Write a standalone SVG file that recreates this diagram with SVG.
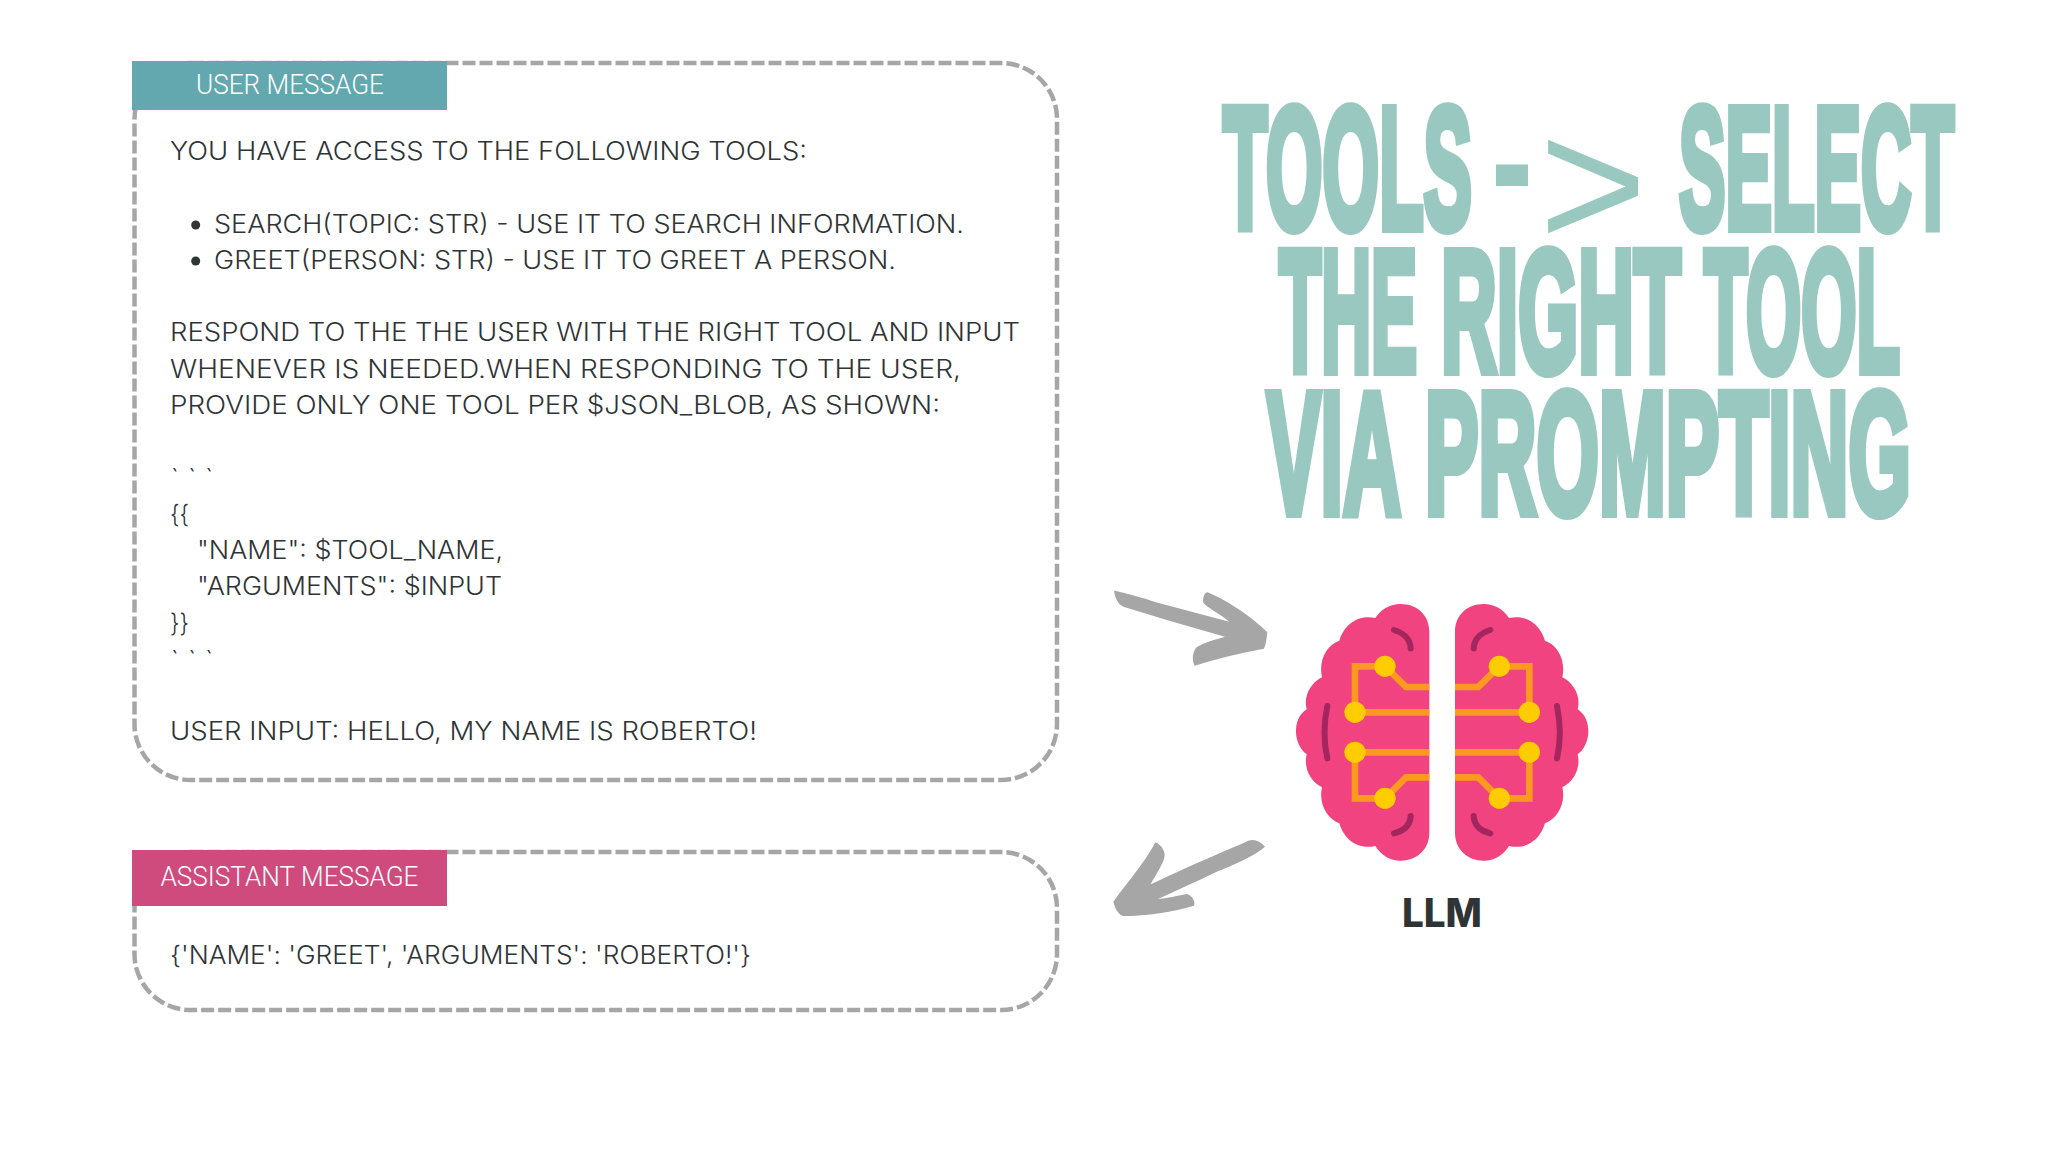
<svg xmlns="http://www.w3.org/2000/svg" width="2048" height="1152" viewBox="0 0 2048 1152">
<defs>
<style>
.box{fill:none;stroke:#a6a6a6;stroke-width:4.500;stroke-dasharray:13 4}
.b{font-family:Inter,"Liberation Sans",sans-serif;font-size:25px;font-weight:300;fill:#2f3436}
.lab{font-family:Roboto,"Liberation Sans",sans-serif;font-size:28px;font-weight:300;fill:#fff}
.t{font-family:"Liberation Sans Narrow","Liberation Sans",sans-serif;font-weight:700;font-size:172px;fill:#98c8bf;stroke:#98c8bf;stroke-width:8;stroke-linejoin:miter;vector-effect:non-scaling-stroke}
.ar{fill:#a6a6a6}
.o{fill:none;stroke:#fb9a1e;stroke-width:20;stroke-linejoin:miter}
.d{fill:none;stroke:#a3265f;stroke-width:18;stroke-linecap:round}
.y{fill:#ffcc00}
</style>
<g id="hemi">
<path fill="#f0437f" d="M478 125C478 75 440 42 392 42C360 42 332 58 316 84C262 72 222 105 208 152C170 165 145 210 156 262C120 280 100 320 110 358C85 375 78 400 78 425C78 450 90 478 110 493C100 535 122 575 156 592C145 640 170 685 208 700C222 748 262 780 316 768C332 795 360 812 392 812C440 812 478 778 478 728Z"/>
<path class="o" d="M478 291H408L345 229H255V367M255 367H478M255 487H478M255 487V625H345L408 562H478"/>
<path class="d" d="M372 120Q420 135 422 175M172 348Q155 430 172 505M372 730Q420 718 422 678"/>
<circle class="y" cx="345" cy="229" r="32"/><circle class="y" cx="255" cy="367" r="32"/><circle class="y" cx="255" cy="487" r="32"/><circle class="y" cx="345" cy="625" r="32"/>
</g>
</defs>
<rect width="2048" height="1152" fill="#fff"/>
<g id="user-message">
<rect class="box" x="134.500" y="63" width="922.500" height="717" rx="56"/>
<rect x="132" y="61" width="315" height="49" fill="#62a8ae"/>
<text class="lab" x="196" y="94" textLength="188" lengthAdjust="spacingAndGlyphs">USER MESSAGE</text>
<text class="b" x="170" y="160" textLength="637" lengthAdjust="spacingAndGlyphs">YOU HAVE ACCESS TO THE FOLLOWING TOOLS:</text>
<circle cx="195.700" cy="225" r="4.500" fill="#2f3436"/>
<text class="b" x="214" y="233" textLength="750" lengthAdjust="spacingAndGlyphs">SEARCH(TOPIC: STR) - USE IT TO SEARCH INFORMATION.</text>
<circle cx="195.700" cy="261" r="4.500" fill="#2f3436"/>
<text class="b" x="214" y="269" textLength="682" lengthAdjust="spacingAndGlyphs">GREET(PERSON: STR) - USE IT TO GREET A PERSON.</text>
<text class="b" x="170" y="341" textLength="850" lengthAdjust="spacingAndGlyphs">RESPOND TO THE THE USER WITH THE RIGHT TOOL AND INPUT</text>
<text class="b" x="170" y="378" textLength="791" lengthAdjust="spacingAndGlyphs">WHENEVER IS NEEDED.WHEN RESPONDING TO THE USER,</text>
<text class="b" x="170" y="414" textLength="770" lengthAdjust="spacingAndGlyphs">PROVIDE ONLY ONE TOOL PER $JSON_BLOB, AS SHOWN:</text>
<text class="b" x="171" y="487" textLength="42" lengthAdjust="spacing">` ` `</text>
<text class="b" x="170" y="523" textLength="19" lengthAdjust="spacingAndGlyphs">{{</text>
<text class="b" x="197" y="559" textLength="306" lengthAdjust="spacingAndGlyphs">"NAME": $TOOL_NAME,</text>
<text class="b" x="197" y="595" textLength="305" lengthAdjust="spacingAndGlyphs">"ARGUMENTS": $INPUT</text>
<text class="b" x="170" y="632" textLength="19" lengthAdjust="spacingAndGlyphs">}}</text>
<text class="b" x="171" y="669" textLength="42" lengthAdjust="spacing">` ` `</text>
<text class="b" x="170" y="740" textLength="587" lengthAdjust="spacingAndGlyphs">USER INPUT: HELLO, MY NAME IS ROBERTO!</text>
</g>
<g id="assistant-message">
<rect class="box" x="134.500" y="852" width="922.500" height="158" rx="56"/>
<rect x="132" y="850" width="315" height="56" fill="#cf4a7d"/>
<text class="lab" x="160.500" y="886" textLength="258" lengthAdjust="spacingAndGlyphs">ASSISTANT MESSAGE</text>
<text class="b" x="170" y="964" textLength="581" lengthAdjust="spacingAndGlyphs">{'NAME': 'GREET', 'ARGUMENTS': 'ROBERTO!'}</text>
</g>
<g id="title">
<text class="t" transform="translate(1223 228) scale(.5 1)" textLength="498" lengthAdjust="spacingAndGlyphs">TOOLS</text>
<text transform="translate(1491 222) scale(.5 1)" textLength="84" lengthAdjust="spacingAndGlyphs" font-family="'Liberation Sans',sans-serif" font-weight="700" font-size="180" fill="#98c8bf">-</text>
<text transform="translate(1539 247) scale(.9 1)" textLength="120" lengthAdjust="spacingAndGlyphs" font-family="'Liberation Sans',sans-serif" font-size="183" fill="#98c8bf">&gt;</text>
<text class="t" transform="translate(1679 228) scale(.5 1)" textLength="550" lengthAdjust="spacingAndGlyphs">SELECT</text>
<text class="t" transform="translate(1279 371) scale(.5 1)" textLength="276" lengthAdjust="spacingAndGlyphs">THE</text>
<text class="t" transform="translate(1441 371) scale(.5 1)" textLength="480" lengthAdjust="spacingAndGlyphs">RIGHT</text>
<text class="t" transform="translate(1704 371) scale(.5 1)" textLength="392" lengthAdjust="spacingAndGlyphs">TOOL</text>
<text class="t" transform="translate(1267 513) scale(.5 1)" textLength="268" lengthAdjust="spacingAndGlyphs">VIA</text>
<text class="t" transform="translate(1425 513) scale(.5 1)" textLength="972" lengthAdjust="spacingAndGlyphs">PROMPTING</text>
</g>
<g id="llm">
<g transform="translate(1270 590) scale(.33333)">
<use href="#hemi"/>
<use href="#hemi" transform="translate(1033 0) scale(-1 1)"/>
</g>
<text x="1402" y="927" textLength="80" lengthAdjust="spacingAndGlyphs" font-family="Inter,'Liberation Sans',sans-serif" font-weight="800" font-size="40" fill="#2e3336">LLM</text>
</g>
<g id="connectors">
<path class="ar" transform="translate(1090 570) scale(.33333)" d="M72 62C100 66 180 90 220 103L418 155C395 135 350 112 340 98C338 85 342 68 352 67C400 85 480 135 532 187C530 205 528 225 522 236C450 250 380 265 314 287C306 275 306 245 320 232C345 215 380 208 405 200L230 150L105 112C85 105 75 85 72 62Z"/>
<path class="ar" transform="translate(1090 820) scale(.33333)" d="M525 80C515 68 495 55 475 62C400 95 280 145 182 193C200 160 225 125 224 103C222 85 208 72 196 67C170 120 110 190 70 245C75 265 85 285 100 288C170 288 250 275 312 257C318 245 305 225 290 222C260 228 230 235 204 237C260 210 320 185 380 155C430 135 490 110 525 80Z"/>
</g>
</svg>
